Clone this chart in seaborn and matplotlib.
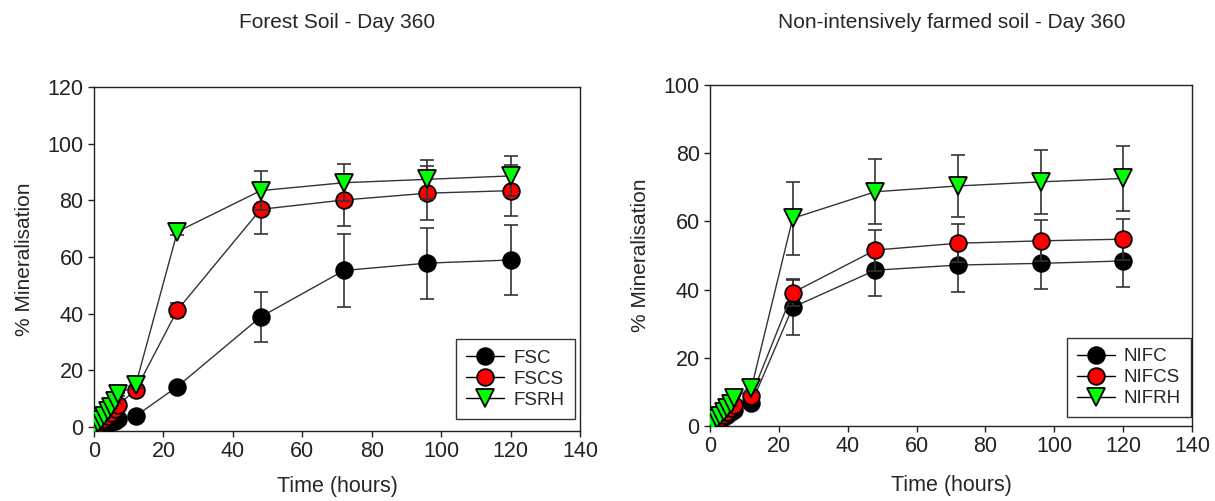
import numpy as np
import pandas as pd
import matplotlib
matplotlib.use("Agg")
import matplotlib.pyplot as plt
import seaborn as sns
from matplotlib.lines import Line2D

# ---------------- data ----------------
times = [0, 1, 2, 3, 4, 5, 6, 7, 12, 24, 48, 72, 96, 120]

fs_names = ["FSC", "FSCS", "FSRH"]
FSC = [0, 0.3, 0.6, 1.0, 1.3, 1.7, 2.1, 2.6, 3.8, 14.2, 38.8, 55.2, 57.8, 58.9]
FSC_err = [0.2, 0.2, 0.2, 0.2, 0.2, 0.2, 0.3, 0.3, 0.5, 1.0, 8.8, 13.0, 12.5, 12.4]
FSCS = [0, 0.9, 1.9, 2.9, 3.9, 4.9, 6.2, 7.8, 13.0, 41.2, 76.8, 80.1, 82.5, 83.4]
FSCS_err = [0.2, 0.2, 0.2, 0.3, 0.3, 0.3, 0.4, 0.5, 1.0, 2.5, 8.7, 9.2, 9.5, 9.0]
FSRH = [0, 1.2, 2.5, 3.9, 5.4, 7.0, 9.0, 11.5, 14.8, 68.9, 83.4, 86.2, 87.4, 88.6]
FSRH_err = [0.2, 0.2, 0.3, 0.3, 0.4, 0.4, 0.5, 0.6, 1.0, 1.0, 7.0, 6.6, 7.0, 7.0]

nif_names = ["NIFC", "NIFCS", "NIFRH"]
NIFC = [0, 0.6, 1.2, 1.8, 2.5, 3.2, 4.0, 4.8, 6.6, 34.8, 45.7, 47.2, 47.7, 48.4]
NIFC_err = [0.2, 0.2, 0.2, 0.2, 0.3, 0.3, 0.3, 0.4, 0.8, 8.0, 7.5, 7.8, 7.5, 7.7]
NIFCS = [0, 0.8, 1.6, 2.4, 3.3, 4.2, 5.2, 6.3, 8.8, 39.1, 51.6, 53.6, 54.3, 54.8]
NIFCS_err = [0.2, 0.2, 0.2, 0.3, 0.3, 0.3, 0.4, 0.5, 0.8, 4.0, 6.0, 5.6, 6.0, 6.0]
NIFRH = [0, 1.0, 2.0, 3.0, 4.1, 5.2, 6.5, 8.2, 11.1, 60.9, 68.7, 70.4, 71.6, 72.6]
NIFRH_err = [0.2, 0.2, 0.3, 0.3, 0.3, 0.4, 0.5, 0.6, 1.0, 10.8, 9.5, 9.0, 9.3, 9.4]

titles = ["Forest Soil - Day 360", "Non-intensively farmed soil - Day 360"]
xlabel = "Time (hours)"
ylabel = "% Mineralisation"

# ---------------- style ----------------
sns.set_style("ticks")
plt.rcParams["font.family"] = ["Liberation Sans", "DejaVu Sans"]

colors = ["#000000", "#ff0000", "#00ff00"]
markers = ["o", "o", "v"]

fig = plt.figure(figsize=(12.15, 5.01), dpi=100)
ax1 = fig.add_axes([0.0774, 0.1397, 0.400, 0.6866])
ax2 = fig.add_axes([0.5844, 0.1497, 0.3967, 0.6806])


def draw(ax, names, vals, errs, ylim, yticks, title, tx, legend_box, xpad):
    frames = []
    for n, v in zip(names, vals):
        frames.append(pd.DataFrame({"t": times, "v": v, "series": n}))
    df = pd.concat(frames, ignore_index=True)
    handles = []
    for i, (n, e) in enumerate(zip(names, errs)):
        sub = df[df.series == n]
        ax.errorbar(sub.t, sub.v, yerr=e, fmt="none", ecolor="#333333",
                    elinewidth=1.2, capsize=5, capthick=1.2, zorder=2 + 2 * i)
        sns.lineplot(data=sub, x="t", y="v", ax=ax, color="#333333", lw=1.0,
                     marker=markers[i], markersize=12 if markers[i] == "o" else 13,
                     markerfacecolor=colors[i], markeredgecolor="black",
                     markeredgewidth=1.3, zorder=3 + 2 * i, legend=False)
        handles.append(Line2D([], [], color="black", lw=1.0, marker=markers[i],
                              markersize=12 if markers[i] == "o" else 13,
                              markerfacecolor=colors[i], markeredgecolor="black",
                              markeredgewidth=1.3))
    ax.set_xlim(0, 140)
    ax.set_ylim(*ylim)
    ax.set_xticks(range(0, 141, 20))
    ax.set_yticks(yticks)
    ax.tick_params(direction="out", length=4, width=1, labelsize=15.5, colors="#222222",
                   top=False, right=False)
    for s in ax.spines.values():
        s.set_linewidth(1.0)
        s.set_color("#222222")
        s.set_visible(True)
    ax.set_xlabel(xlabel, fontsize=15.5, labelpad=xpad)
    ax.set_ylabel(ylabel, fontsize=15, labelpad=10)
    fig.text(tx, 1 - 22 / 501, title, ha="center", va="center", fontsize=15)
    leg = ax.legend(handles, names, loc="lower left", bbox_to_anchor=legend_box,
                    frameon=True, fancybox=False, fontsize=13.5, handlelength=2.0,
                    borderpad=0.55, labelspacing=0.2, handletextpad=0.5,
                    borderaxespad=0)
    leg.get_frame().set_edgecolor("black")
    leg.get_frame().set_linewidth(1.0)


draw(ax1, fs_names, [FSC, FSCS, FSRH], [FSC_err, FSCS_err, FSRH_err],
     (-1.5, 120), range(0, 121, 20), titles[0], 337 / 1215, (0.745, 0.035), 10)
draw(ax2, nif_names, [NIFC, NIFCS, NIFRH], [NIFC_err, NIFCS_err, NIFRH_err],
     (0, 100), range(0, 101, 20), titles[1], 952 / 1215, (0.74, 0.025), 13)

fig.savefig("out.png", dpi=100)
